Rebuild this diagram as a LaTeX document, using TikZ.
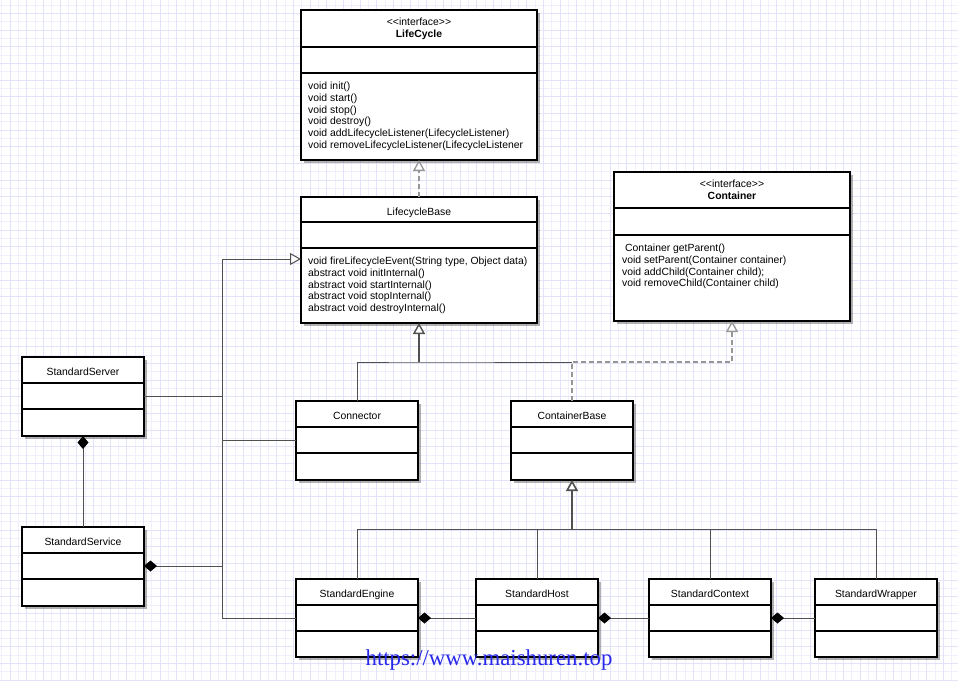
\documentclass[tikz,border=0pt]{standalone}
\usepackage{fontspec}
\setmainfont{Liberation Sans}
\newfontfamily\wmfont{Liberation Serif}
\usetikzlibrary{arrows.meta,positioning,shadows}

\definecolor{gridmin}{RGB}{240,240,252}
\definecolor{gridmaj}{RGB}{226,226,248}
\definecolor{linkgray}{RGB}{80,80,80}
\definecolor{dashgray}{RGB}{150,150,150}
\definecolor{wmblue}{RGB}{40,40,235}

\begin{document}
\begin{tikzpicture}[x=1pt, y=-1pt,
  every node/.style={font=\fontsize{10.4}{11.7}\selectfont},
  part/.style={draw, line width=1.3pt, fill=white, outer sep=0pt, inner sep=0pt, minimum height=26pt,
    drop shadow={shadow xshift=2.5pt, shadow yshift=-2.5pt, opacity=.3, fill=black}},
  big/.style={part, minimum width=236pt},
  small/.style={part, minimum width=122pt},
  title/.style={text height=12pt, text depth=1pt},
  ops/.style={anchor=north west, align=left, inner sep=0pt},
  line/.style={draw=linkgray, line width=1pt},
  gen/.style={line, -{Triangle[length=11pt, width=12pt, fill=white]}},
  real/.style={draw=dashgray, line width=1.3pt, dash pattern=on 5pt off 3pt, -{Triangle[length=11pt, width=12pt, fill=white]}},
  comp/.style={line, {Diamond[length=13pt, width=11pt, color=black]}-}
]
\fill[white] (0,0) rectangle (958,681);
\useasboundingbox (0,0) rectangle (958,681);

% grid
\foreach \i in {0,...,115} \draw[gridmin, line width=.8pt] ({1.667+8.333*\i},0) -- ({1.667+8.333*\i},681);
\foreach \i in {0,...,81} \draw[gridmin, line width=.8pt] (0,{5+8.333*\i}) -- (958,{5+8.333*\i});
\foreach \i in {0,...,57} \draw[gridmaj, line width=.8pt] ({10+16.667*\i},0) -- ({10+16.667*\i},681);
\foreach \i in {0,...,40} \draw[gridmaj, line width=.8pt] (0,{13.333+16.667*\i}) -- (958,{13.333+16.667*\i});

% interfaces and base class
\node[big, anchor=north west, minimum height=37pt, align=center] (lc) at (301,10) {<{}<interface>{}>\\\textbf{LifeCycle}};
\node[big, below=0pt of lc] (lc-attr) {};
\node[big, below=0pt of lc-attr, minimum height=87pt] (lc-ops) {};
\node[ops] (lc-txt) at ([xshift=7pt, yshift=-9pt]lc-ops.north west) {void init()\\void start()\\void stop()\\void destroy()\\void addLifecycleListener(LifecycleListener)\\void removeLifecycleListener(LifecycleListener};

\node[big, title, anchor=north west, minimum height=25pt] (lb) at (301,197) {LifecycleBase};
\node[big, below=0pt of lb] (lb-attr) {};
\node[big, below=0pt of lb-attr, minimum height=75pt] (lb-ops) {};
\node[ops] (lb-txt) at ([xshift=7pt, yshift=-9pt]lb-ops.north west) {void fireLifecycleEvent(String type, Object data)\\abstract void initInternal()\\abstract void startInternal()\\abstract void stopInternal()\\abstract void destroyInternal()};

\node[big, anchor=north west, minimum height=36pt, align=center] (ct) at (614,172) {<{}<interface>{}>\\\textbf{Container}};
\node[big, below=0pt of ct, minimum height=27pt] (ct-attr) {};
\node[big, below=0pt of ct-attr, minimum height=86pt] (ct-ops) {};
\node[ops] (ct-txt) at ([xshift=8pt, yshift=-9pt]ct-ops.north west) {\hspace{3pt}Container getParent()\\void setParent(Container container)\\void addChild(Container child);\\void removeChild(Container child)};

% server and service
\node[small, title, anchor=north west] (srv) at (22,357) {StandardServer};
\node[small, below=0pt of srv] (srv-attr) {};
\node[small, below=0pt of srv-attr, minimum height=27pt] (srv-ops) {};

\node[small, title, anchor=north west] (svc) at (22,527) {StandardService};
\node[small, below=0pt of svc] (svc-attr) {};
\node[small, below=0pt of svc-attr, minimum height=27pt] (svc-ops) {};

% connector and container base
\node[small, title, anchor=north west] (conn) at (296,401) {Connector};
\node[small, below=0pt of conn] (conn-attr) {};
\node[small, below=0pt of conn-attr, minimum height=27pt] (conn-ops) {};

\node[small, title, anchor=north west] (cb) at (511,401) {ContainerBase};
\node[small, below=0pt of cb] (cb-attr) {};
\node[small, below=0pt of cb-attr, minimum height=27pt] (cb-ops) {};

% containers
\node[small, title, anchor=north west] (eng) at (296,579) {StandardEngine};
\node[small, below=0pt of eng] (eng-attr) {};
\node[small, below=0pt of eng-attr] (eng-ops) {};

\node[small, title, anchor=north west] (host) at (476,579) {StandardHost};
\node[small, below=0pt of host] (host-attr) {};
\node[small, below=0pt of host-attr] (host-ops) {};

\node[small, title, anchor=north west] (ctx) at (649,579) {StandardContext};
\node[small, below=0pt of ctx] (ctx-attr) {};
\node[small, below=0pt of ctx-attr] (ctx-ops) {};

\node[small, title, anchor=north west] (wrp) at (815,579) {StandardWrapper};
\node[small, below=0pt of wrp] (wrp-attr) {};
\node[small, below=0pt of wrp-attr] (wrp-ops) {};

% realization of LifeCycle
\draw[real] (lb.north) -- (lc-ops.south);

% left trunk
\coordinate (trunk) at (222,259);
\draw[gen] (svc-attr.east -| trunk) -- (trunk) -- (trunk -| lb-ops.west);
\draw[line] (srv-attr.east) -- (srv-attr.east -| trunk);
\draw[comp] (svc-attr.east) -- (svc-attr.east -| trunk) |- (conn-attr.west);
\draw[line] (svc-attr.east -| trunk) |- (eng-attr.west);
\draw[comp] (srv-ops.south) -- (svc.north);

% LifecycleBase subclasses
\path (lb-ops.south) ++(0,39) coordinate (gjoin);
\draw[line] (conn.north) |- (gjoin) -- (gjoin -| cb.north);
\draw[gen, line width=1.4pt] (gjoin) -- (lb-ops.south);
\draw[real] (cb.north) |- (gjoin -| ct-ops.south) -- (ct-ops.south);

% ContainerBase subclasses
\path (cb-ops.south) ++(0,49) coordinate (bjoin);
\draw[gen, line width=1.6pt] (bjoin) -- (cb-ops.south);
\draw[line] (eng.north) |- (bjoin) -- (bjoin -| wrp.north) -- (wrp.north);
\foreach \c in {host, ctx} \draw[line] (\c.north) -- (\c.north |- bjoin);

\draw[comp] (eng-attr.east) -- (host-attr.west);
\draw[comp] (host-attr.east) -- (ctx-attr.west);
\draw[comp] (ctx-attr.east) -- (wrp-attr.west);

\node[font=\wmfont\fontsize{22.8}{24}\selectfont, text=wmblue, anchor=base, inner sep=0pt] (wm) at (489,665) {https://www.maishuren.top};
\end{tikzpicture}
\end{document}
